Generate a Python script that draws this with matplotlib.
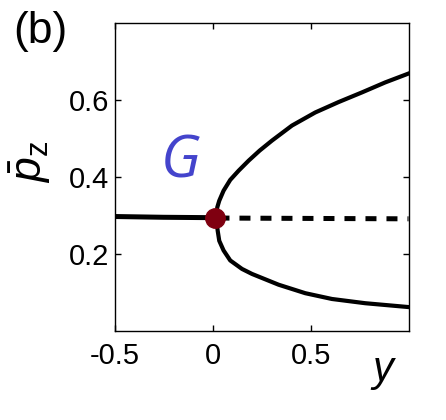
import numpy as np
import matplotlib
matplotlib.use("Agg")
from matplotlib import pyplot as plt

plt.rcParams['font.family'] = ['Liberation Sans', 'DejaVu Sans']
plt.rcParams['axes.unicode_minus'] = False
plt.rcParams['mathtext.fontset'] = 'custom'
plt.rcParams['mathtext.rm'] = 'Liberation Sans'
plt.rcParams['mathtext.it'] = 'Liberation Sans:italic'

# stable branch (left of bifurcation)
left_x = [-0.5, -0.25, 0.0, 0.014]
left_y = [0.297, 0.295, 0.294, 0.294]

# unstable branch (dashed)
dash_x = [0.03, 0.5, 1.0]
dash_y = [0.293, 0.292, 0.291]

# upper branch
up_x = [0.018, 0.024, 0.034, 0.056, 0.090, 0.133, 0.184, 0.240, 0.303, 0.405,
        0.524, 0.643, 0.762, 0.881, 1.0]
up_y = [0.294, 0.321, 0.338, 0.364, 0.392, 0.416, 0.442, 0.468, 0.494, 0.533,
        0.567, 0.594, 0.619, 0.645, 0.668]

# lower branch
lo_x = [0.018, 0.026, 0.034, 0.056, 0.090, 0.150, 0.201, 0.337, 0.473, 0.609,
        0.779, 1.0]
lo_y = [0.294, 0.260, 0.234, 0.209, 0.183, 0.161, 0.148, 0.120, 0.098, 0.083,
        0.072, 0.062]

# bifurcation point
pt_x = [0.014]
pt_y = [0.294]

fig = plt.figure(figsize=(4.46, 4.2), dpi=100)
ax = fig.add_axes([0.257, 0.212, 0.659, 0.734])

ax.plot(left_x, left_y, color='black', lw=3.6, solid_capstyle='butt')
ax.plot(dash_x, dash_y, color='black', lw=3.6, dashes=(2.2, 2.0))
ax.plot(up_x, up_y, color='black', lw=3.0)
ax.plot(lo_x, lo_y, color='black', lw=3.0)
ax.plot(pt_x, pt_y, 'o', color='#7f0010', ms=14, zorder=5)

ax.set_xlim(-0.5, 1.0)
ax.set_ylim(0, 0.8)
ax.set_xticks([-0.5, 0, 0.5])
ax.set_xticklabels(['-0.5', '0', '0.5'])
ax.set_yticks([0.2, 0.4, 0.6])
ax.set_yticklabels(['0.2', '0.4', '0.6'])
ax.tick_params(direction='in', top=True, right=True, length=4, width=1,
               labelsize=21)
ax.tick_params(axis='x', pad=8)
ax.tick_params(axis='y', pad=4)
for s in ax.spines.values():
    s.set_linewidth(1)

ax.text(-0.165, 0.437, 'G', color='#4444cc', fontsize=42, style='italic',
        family='Open Sans', ha='center', va='center')

fig.text(0.068, 0.615, r'$\bar{p}_\mathrm{z}$', fontsize=32, rotation=90,
         ha='center', va='center')
fig.text(0.859, 0.119, 'y', fontsize=30, style='italic', ha='center', va='center')
fig.text(0.03, 0.925, '(b)', fontsize=32, ha='left', va='center')

fig.savefig('out.png', dpi=100)
